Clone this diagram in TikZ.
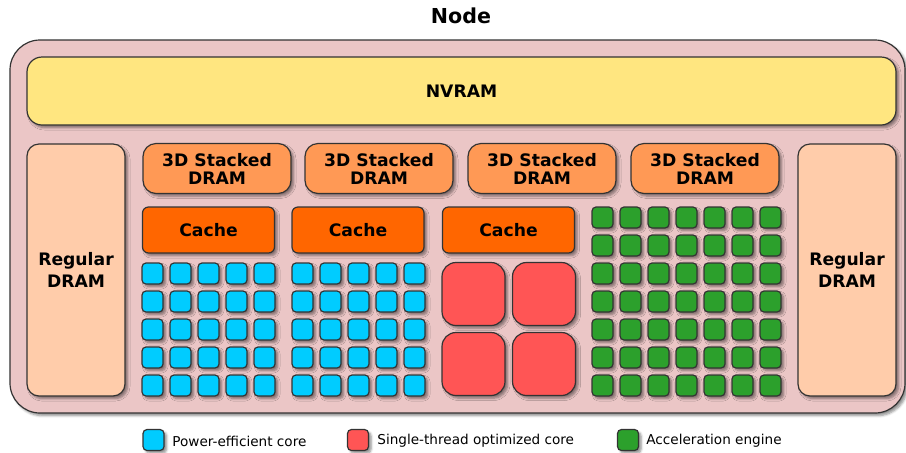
\documentclass[tikz,border=0pt]{standalone}
\usepackage{fontspec}
\setmainfont{DejaVu Sans}
\usetikzlibrary{shadows.blur}
\definecolor{edgegray}{HTML}{333333}
\definecolor{nodebg}{HTML}{EBC6C6}
\definecolor{nvram}{HTML}{FFE680}
\definecolor{dram}{HTML}{FFCCAA}
\definecolor{stacked}{HTML}{FF9955}
\definecolor{cache}{HTML}{FF6600}
\definecolor{pecolor}{HTML}{00CCFF}
\definecolor{stcolor}{HTML}{FF5555}
\definecolor{aecolor}{HTML}{2CA02C}
\begin{document}
\begin{tikzpicture}[x=0.5pt,y=-0.5pt,
    blk/.style={draw=edgegray,line width=0.6pt,align=center,inner sep=0pt,
      font=\fontsize{8.6}{9}\selectfont\bfseries,
      blur shadow={shadow xshift=1.3pt,shadow yshift=-1.3pt,shadow blur steps=5,
        shadow blur radius=1.2pt,shadow opacity=45}},
    core/.style={blk,minimum width=10.5pt,minimum height=10.5pt,rounded corners=2pt},
    pecore/.style={core,fill=pecolor},
    aecore/.style={core,fill=aecolor},
    stcore/.style={blk,fill=stcolor,minimum width=31.5pt,minimum height=31.5pt,rounded corners=7pt},
    stackbox/.style={blk,fill=stacked,minimum width=74pt,minimum height=25pt,rounded corners=6.5pt},
    cachebox/.style={blk,fill=cache,minimum width=66pt,minimum height=23pt,rounded corners=3pt},
    drambox/.style={blk,fill=dram,minimum width=49pt,minimum height=126pt,rounded corners=6pt,
      font=\fontsize{8.6}{10.6}\selectfont\bfseries},
    legend/.style={inner sep=0pt,font=\fontsize{6.8}{8}\selectfont}]
  \useasboundingbox (0,0) rectangle (906,452);
  \node (title) at (461,16) {\fontsize{10.3}{12}\selectfont\bfseries Node};
  \node[blk,fill=nodebg,minimum width=447.5pt,minimum height=186.5pt,rounded corners=15pt] (node) at (457.5,226.5) {};
  \node[blk,fill=nvram,minimum width=434.5pt,minimum height=34pt,rounded corners=7.5pt] (nvram) at (461.5,91) {NVRAM};
  \node[drambox] (dramleft) at (76,270) {Regular\\DRAM};
  \node[drambox] (dramright) at (847,270) {Regular\\DRAM};
  \foreach \x [count=\k] in {217,379,542,705}
    \node[stackbox] (stack\k) at (\x,168.5) {3D Stacked\\DRAM};
  \foreach \x [count=\k] in {208.5,358,508.5}
    \node[cachebox] (cache\k) at (\x,230) {Cache};
  \foreach \g/\x in {1/152.5,2/302.5}
    \foreach \i in {0,...,4}
      \foreach \j in {0,...,4}
        \node[pecore] (pe\g-\i-\j) at (\x+28*\i,273.5+28*\j) {};
  \foreach \i in {0,1}
    \foreach \j in {0,1}
      \node[stcore] (st-\i-\j) at (473.5+70.5*\i,294+70*\j) {};
  \foreach \i in {0,...,6}
    \foreach \j in {0,...,6}
      \node[aecore] (ae-\i-\j) at (602.5+28*\i,217.5+28*\j) {};
  \node[pecore] (keype) at (153.5,440) {};
  \node[legend,anchor=west] (keypetext) at (172,441) {Power-efficient core};
  \node[core,fill=stcolor] (keyst) at (358,440) {};
  \node[legend,anchor=west] (keysttext) at (377,441) {Single-thread optimized core};
  \node[aecore] (keyae) at (628,440) {};
  \node[legend,anchor=west] (keyaetext) at (646,441) {Acceleration engine};
\end{tikzpicture}
\end{document}
